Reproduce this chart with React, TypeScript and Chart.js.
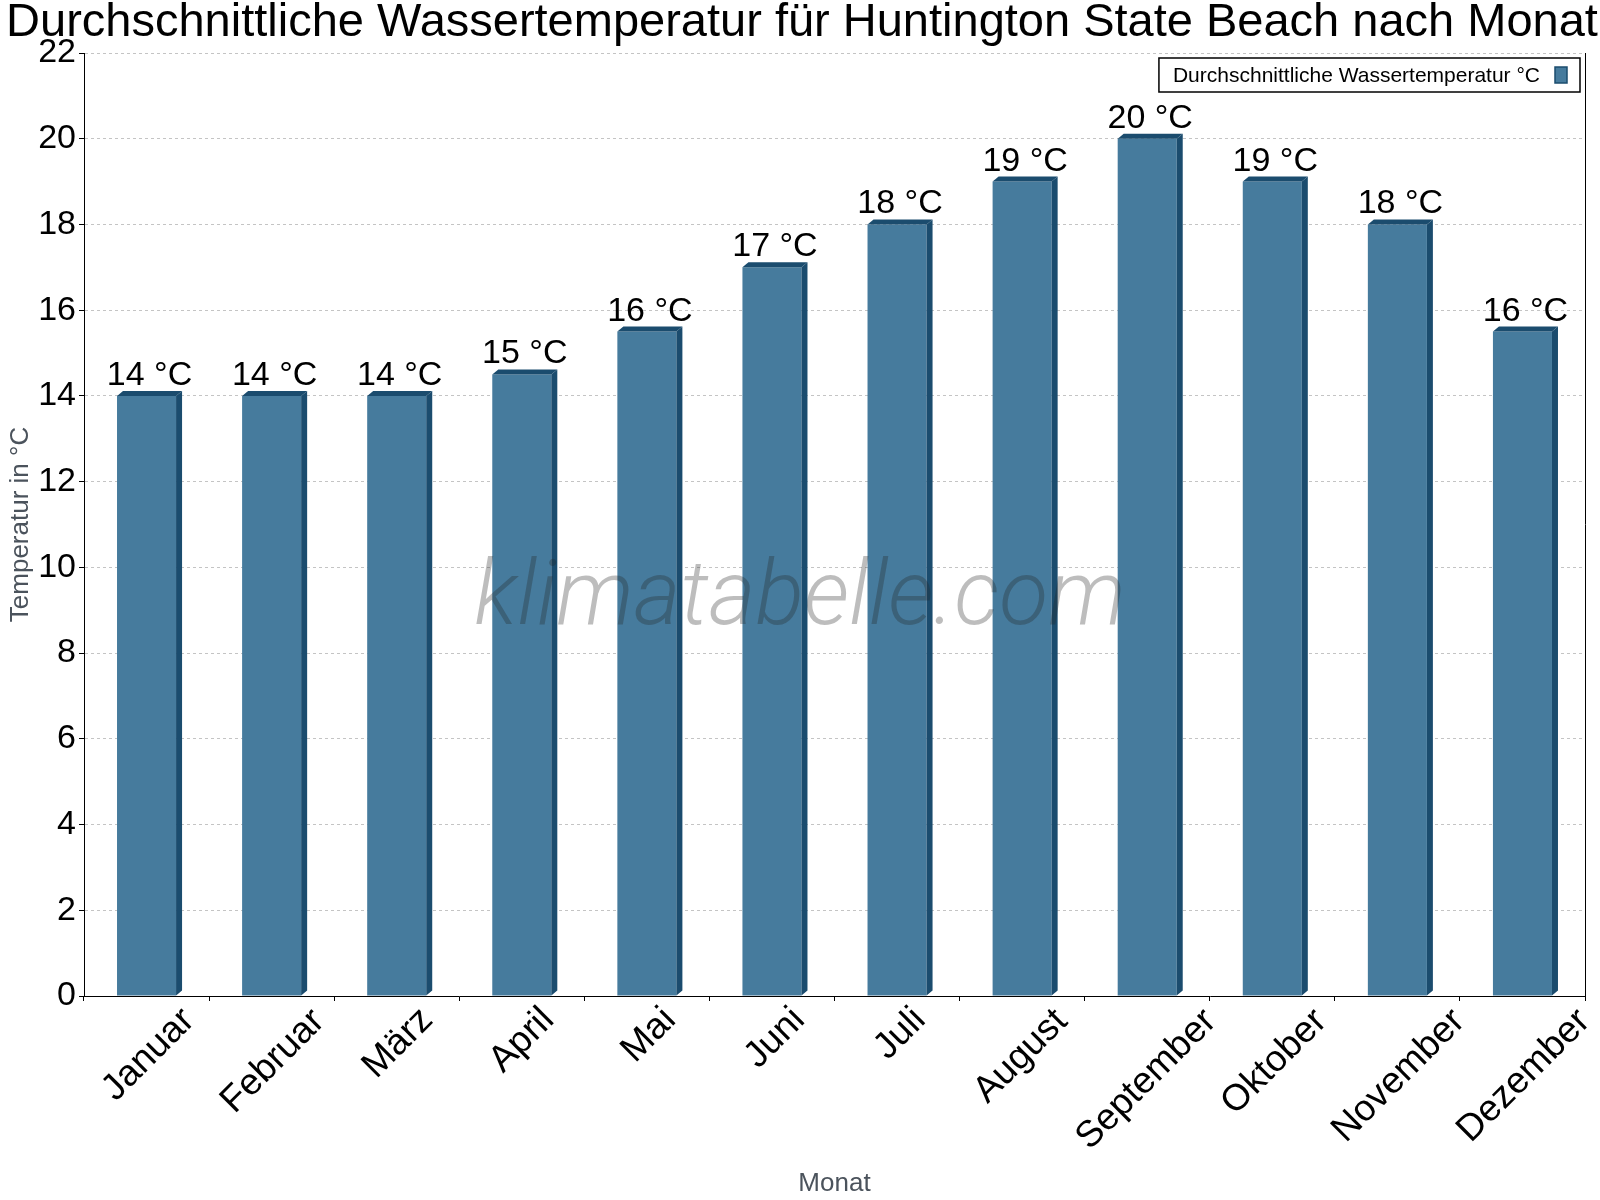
import { useEffect, useRef } from "react";
import { Chart, registerables } from "chart.js";

Chart.register(...registerables);

const months = [
  "Januar",
  "Februar",
  "März",
  "April",
  "Mai",
  "Juni",
  "Juli",
  "August",
  "September",
  "Oktober",
  "November",
  "Dezember",
];
const waterTemps = [14, 14, 14, 14.5, 15.5, 17, 18, 19, 20, 19, 18, 15.5];

const TITLE =
  "Durchschnittliche Wassertemperatur für Huntington State Beach nach Monat";
const SERIES_LABEL = "Durchschnittliche Wassertemperatur °C";
const WATERMARK = "klimatabelle.com";

const FONT = '"Liberation Sans", Arial, sans-serif';
const BAR_FRONT = "#467b9d";
const BAR_DARK = "#1b4c6e";
const AXIS_TITLE_COLOR = "#4b535c";
const DX = 6;
const DY = 5;

// 3d look of the bars + value labels on top
const barDepth = {
  id: "barDepth",
  afterLayout(chart: any) {
    // centre the title on the whole canvas, not on the padded box
    if (chart.titleBlock) {
      chart.titleBlock.left = 4;
      chart.titleBlock.right = chart.width;
    }
  },
  afterDatasetsDraw(chart: any) {
    const ctx = chart.ctx;
    const meta = chart.getDatasetMeta(0);
    ctx.save();
    meta.data.forEach((bar: any, i: number) => {
      const { x, y, base, width } = bar.getProps(
        ["x", "y", "base", "width"],
        true,
      );
      const l = x - width / 2;
      const r = x + width / 2;
      ctx.fillStyle = BAR_DARK;
      ctx.beginPath();
      ctx.moveTo(l, y);
      ctx.lineTo(l + DX, y - DY);
      ctx.lineTo(r + DX, y - DY);
      ctx.lineTo(r, y);
      ctx.closePath();
      ctx.fill();
      ctx.beginPath();
      ctx.moveTo(r, y);
      ctx.lineTo(r + DX, y - DY);
      ctx.lineTo(r + DX, base - DY);
      ctx.lineTo(r, base);
      ctx.closePath();
      ctx.fill();

      ctx.fillStyle = "#000";
      ctx.font = `34px ${FONT}`;
      ctx.textAlign = "center";
      ctx.textBaseline = "alphabetic";
      ctx.fillText(`${Math.round(waterTemps[i])} °C`, x + DX / 2, y - 11);
    });
    ctx.restore();
  },
};

const decorations = {
  id: "decorations",
  afterDraw(chart: any) {
    const ctx = chart.ctx;
    const area = chart.chartArea;
    const xScale = chart.scales.x;
    ctx.save();

    // right frame line
    ctx.strokeStyle = "#000";
    ctx.lineWidth = 1;
    ctx.beginPath();
    ctx.moveTo(area.right + 0.5, area.top);
    ctx.lineTo(area.right + 0.5, area.bottom);
    ctx.stroke();

    // rotated month labels, box centred under each category
    ctx.font = `37px ${FONT}`;
    ctx.fillStyle = "#000";
    ctx.textAlign = "center";
    ctx.textBaseline = "middle";
    const k = Math.SQRT1_2;
    const labelTop = xScale.top + 8;
    months.forEach((m, i) => {
      const px = xScale.getPixelForValue(i);
      const mt = ctx.measureText(m);
      const uL = -mt.actualBoundingBoxLeft;
      const uR = mt.actualBoundingBoxRight;
      const asc = mt.actualBoundingBoxAscent;
      const desc = mt.actualBoundingBoxDescent;
      const minX = k * (uL - asc);
      const maxX = k * (uR + desc);
      const minY = k * (-uR - asc);
      ctx.save();
      ctx.translate(px - (minX + maxX) / 2, labelTop - minY);
      ctx.rotate(-Math.PI / 4);
      ctx.fillText(m, 0, 0);
      ctx.restore();
    });

    // legend box inside the plot
    ctx.font = `21px ${FONT}`;
    ctx.textAlign = "left";
    const textW = ctx.measureText(SERIES_LABEL).width;
    const boxH = 34;
    const boxW = 14 + textW + 15 + 12 + 13;
    const bx = area.right - 5 - boxW;
    const by = area.top + 5;
    ctx.fillStyle = "#fff";
    ctx.fillRect(bx, by, boxW, boxH);
    ctx.strokeStyle = "#000";
    ctx.lineWidth = 1.5;
    ctx.strokeRect(bx, by, boxW, boxH);
    ctx.fillStyle = "#000";
    ctx.fillText(SERIES_LABEL, bx + 14, by + boxH / 2 + 1);
    const sx = bx + 14 + textW + 15;
    ctx.fillStyle = BAR_FRONT;
    ctx.fillRect(sx, by + 9, 12, 16);
    ctx.strokeStyle = BAR_DARK;
    ctx.lineWidth = 1.5;
    ctx.strokeRect(sx, by + 9, 12, 16);

    // watermark
    ctx.font = `italic 300 90px Roboto, ${FONT}`;
    ctx.fillStyle = "rgba(36, 36, 36, 0.3)";
    ctx.textAlign = "center";
    ctx.textBaseline = "alphabetic";
    ctx.fillText(WATERMARK, chart.width / 2, chart.height / 2 + 24);

    ctx.restore();
  },
};

export default function App() {
  const canvasRef = useRef<HTMLCanvasElement>(null);
  const chartRef = useRef<Chart | null>(null);

  useEffect(() => {
    document.body.style.margin = "0";
    if (!canvasRef.current) return;
    if (chartRef.current) chartRef.current.destroy();
    const ctx = canvasRef.current.getContext("2d");
    if (!ctx) return;

    chartRef.current = new Chart(ctx, {
      type: "bar",
      data: {
        labels: months,
        datasets: [
          {
            label: SERIES_LABEL,
            data: waterTemps,
            backgroundColor: BAR_FRONT,
            borderWidth: 0,
            barPercentage: 0.472,
            categoryPercentage: 1,
          },
        ],
      },
      options: {
        responsive: false,
        animation: false,
        layout: { padding: { left: 0, right: 15, top: 0, bottom: 0 } },
        plugins: {
          legend: { display: false },
          tooltip: { enabled: false },
          title: {
            display: true,
            text: TITLE,
            color: "#000",
            font: { family: FONT, size: 47, weight: "normal", lineHeight: 1 },
            padding: { top: 0, bottom: 6 },
          },
        },
        scales: {
          x: {
            offset: true,
            grid: {
              offset: true,
              drawOnChartArea: false,
              drawTicks: true,
              tickLength: 5,
              tickColor: "#000",
            },
            border: { color: "#000", width: 1 },
            ticks: { display: false },
            title: {
              display: true,
              text: "Monat",
              color: AXIS_TITLE_COLOR,
              font: { family: FONT, size: 26, lineHeight: 1 },
              padding: { top: 0, bottom: 3 },
            },
            afterFit: (s: any) => {
              s.height = 204;
            },
          },
          y: {
            min: 0,
            max: 22,
            ticks: {
              stepSize: 2,
              color: "#000",
              font: { family: FONT, size: 34 },
              padding: 3,
            },
            grid: {
              color: "#c4c4c4",
              tickColor: "#000",
              tickLength: 5,
              lineWidth: 1,
            },
            border: { display: true, color: "#000", width: 1, dash: [3, 3] },
            title: {
              display: true,
              text: "Temperatur in °C",
              color: AXIS_TITLE_COLOR,
              font: { family: FONT, size: 26, lineHeight: 1 },
              padding: { top: 8, bottom: 0 },
            },
            afterFit: (s: any) => {
              s.width = 84;
            },
          },
        },
      },
      plugins: [barDepth, decorations],
    });

    return () => {
      if (chartRef.current) {
        chartRef.current.destroy();
        chartRef.current = null;
      }
    };
  }, []);

  return (
    <div style={{ width: 1600, height: 1200, background: "#fff" }}>
      <canvas
        ref={canvasRef}
        width={1600}
        height={1200}
        style={{ width: "1600px", height: "1200px", display: "block" }}
      />
    </div>
  );
}
